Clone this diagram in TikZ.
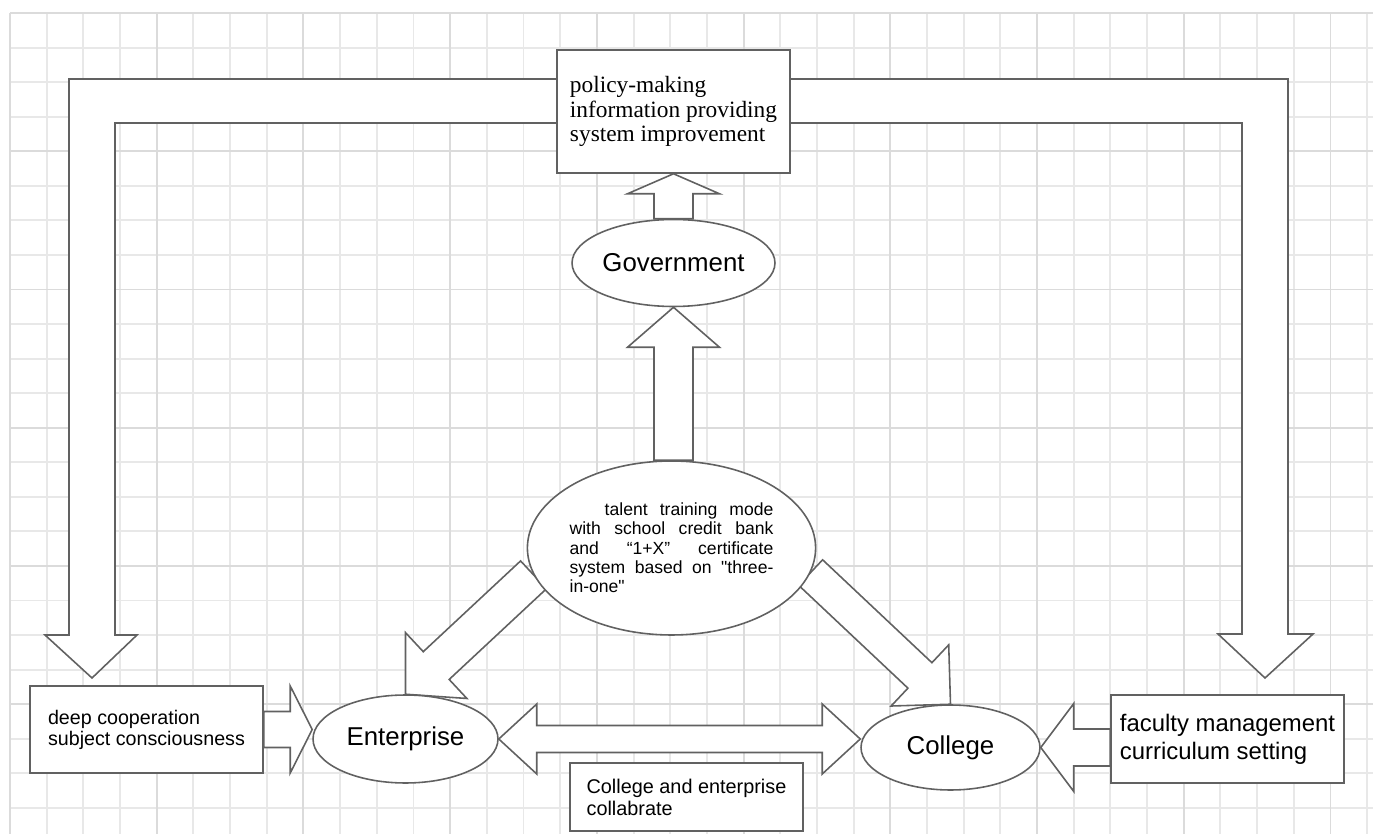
\documentclass[tikz,border=0pt]{standalone}
\usepackage{fontspec}
\setmainfont{Liberation Sans}
\newfontfamily\serifface{Liberation Serif}
\newfontfamily\plainface{Liberation Sans}
\usetikzlibrary{shapes.geometric,calc}
\pgfdeclarelayer{gridlayer}
\pgfdeclarelayer{arrowlayer}
\pgfsetlayers{gridlayer,arrowlayer,main}
\newcommand{\blkarrow}[5]{%
\coordinate (hb) at ($(#2)!#5*0.02cm!(#1)$);
\draw[blk] ($(#1)!#3*0.02cm!90:(#2)$) -- ($(hb)!#3*0.02cm!90:(#2)$) -- ($(hb)!#4*0.02cm!90:(#2)$) -- (#2) -- ($(hb)!#4*0.02cm!-90:(#2)$) -- ($(hb)!#3*0.02cm!-90:(#2)$) -- ($(#1)!#3*0.02cm!-90:(#2)$) -- cycle;}
\newcommand{\dblarrow}[5]{%
\coordinate (ha) at ($(#1)!#5*0.02cm!(#2)$);
\coordinate (hb) at ($(#2)!#5*0.02cm!(#1)$);
\draw[blk] (#1) -- ($(ha)!#4*0.02cm!90:(#2)$) -- ($(ha)!#3*0.02cm!90:(#2)$) -- ($(hb)!#3*0.02cm!90:(#2)$) -- ($(hb)!#4*0.02cm!90:(#2)$) -- (#2) -- ($(hb)!#4*0.02cm!-90:(#2)$) -- ($(hb)!#3*0.02cm!-90:(#2)$) -- ($(ha)!#3*0.02cm!-90:(#2)$) -- ($(ha)!#4*0.02cm!-90:(#2)$) -- cycle;}
\begin{document}
\begin{tikzpicture}[x=0.02cm, y=-0.02cm,
gridline/.style={draw=black!9, line width=1.1pt},
gridmajor/.style={draw=black!14, line width=1.1pt},
blk/.style={draw=black!62, fill=white, line width=0.9pt, line join=miter},
box/.style={draw=black!62, fill=white, line width=0.9pt, minimum width=4.66cm, inner sep=0pt, align=left},
ell/.style={ellipse, draw=black!62, fill=white, line width=0.9pt, inner sep=0pt}]
\useasboundingbox (0,0) rectangle (1373,834);
\begin{pgfonlayer}{gridlayer}
\foreach \i in {0,...,37} \draw[gridline] ({10+36.68*\i},13) -- ({10+36.68*\i},834);
\foreach \j in {0,...,23} \draw[gridline] (10,{13+34.56*\j}) -- (1373,{13+34.56*\j});
\foreach \i in {0,4,...,36} \draw[gridmajor] ({10+36.68*\i},13) -- ({10+36.68*\i},834);
\foreach \j in {0,4,...,20} \draw[gridmajor] (10,{13+34.56*\j}) -- (1373,{13+34.56*\j});
\end{pgfonlayer}
\node[box, minimum height=2.46cm, font={\serifface\fontsize{13.3}{13.8}\selectfont}] (policy) at (673.5,111.5) {policy-making\\information providing\\system improvement};
\node[ell, minimum width=4.06cm, minimum height=1.74cm, font={\fontsize{14.7}{16}\selectfont}] (gov) at (673.5,263) {Government};
\node[ell, minimum width=5.14cm, minimum height=3.48cm] (centre) at (671.5,548) {\parbox{116pt}{\plainface\fontsize{10}{11}\selectfont\hspace*{20pt}talent training mode\linebreak with school credit bank\linebreak and “1+X” certificate\linebreak system based on "three-\linebreak in-one"}};
\node[ell, minimum width=3.7cm, minimum height=1.76cm, font={\fontsize{14.7}{16}\selectfont}] (ent) at (405.5,739) {Enterprise};
\node[ell, minimum width=3.58cm, minimum height=1.7cm, font={\fontsize{14.7}{16}\selectfont}] (col) at (950.5,747.5) {College};
\node[box, minimum height=1.74cm, font={\fontsize{11.2}{12}\selectfont}] (deep) at (146.5,729.5) {deep cooperation\\subject consciousness};
\node[box, minimum height=1.76cm, font={\fontsize{13.6}{15.9}\selectfont}] (faculty) at (1227.5,739) {faculty management\\curriculum setting};
\node[box, minimum height=1.36cm, font={\fontsize{11.3}{12.5}\selectfont}] (collab) at (686.5,797) {College and enterprise\\collabrate};
\begin{pgfonlayer}{arrowlayer}
\draw[blk] (557,79) -- (69,79) -- (69,635) -- (45,635) -- (92,678) -- (137,635) -- (115,635) -- (115,123) -- (557,123) -- cycle;
\draw[blk] (790,79) -- (1288,79) -- (1288,634) -- (1313,634) -- (1265,678) -- (1218,634) -- (1242,634) -- (1242,123) -- (790,123) -- cycle;
\blkarrow{gov.north}{policy.south}{19.5}{46}{20}
\coordinate (centretop) at (gov.south |- centre.north);
\blkarrow{centretop}{gov.south}{19.5}{46}{40}
\blkarrow{centre.191}{ent.north}{19}{45}{42}
\blkarrow{centre.350}{col.north}{17.5}{42}{42}
\coordinate (colin) at (col.west |- ent.east);
\dblarrow{ent.east}{colin}{13.5}{35}{38}
\coordinate (entin) at (ent.west |- deep.east);
\blkarrow{deep.east}{entin}{18}{43.5}{22}
\coordinate (facout) at (faculty.west |- col.east);
\blkarrow{facout}{col.east}{18.5}{44}{33}
\end{pgfonlayer}
\end{tikzpicture}
\end{document}
